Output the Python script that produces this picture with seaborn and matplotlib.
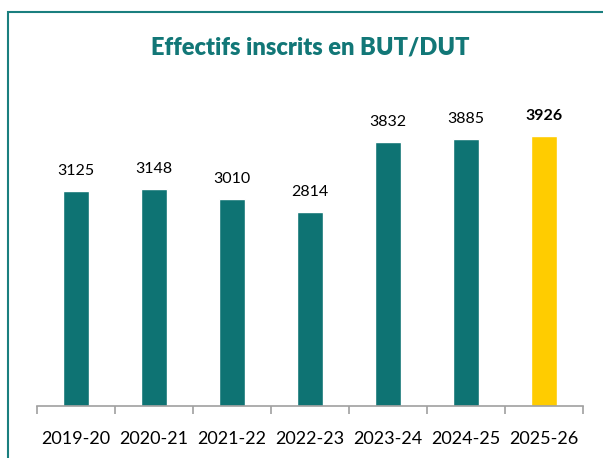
import numpy as np
import pandas as pd
import matplotlib.pyplot as plt
import seaborn as sns
from matplotlib.patches import Rectangle

# Data
years = ['2019-20', '2020-21', '2021-22', '2022-23', '2023-24', '2024-25', '2025-26']
effectifs = [3125, 3148, 3010, 2814, 3832, 3885, 3926]
teal = '#0E7373'
yellow = '#FFCC00'
colors = [teal] * 6 + [yellow]

df = pd.DataFrame({'annee': years, 'effectif': effectifs})

sns.set_theme(style='white')
plt.rcParams['font.family'] = ['Lato', 'DejaVu Sans']

fig = plt.figure(figsize=(6.03, 4.58), dpi=100)
ax = fig.add_axes([37 / 603, 1 - 406 / 458, 546 / 603, 344 / 458])

sns.barplot(data=df, x='annee', y='effectif', hue='annee', palette=colors,
            legend=False, width=0.33, saturation=1, ax=ax)

ax.set_ylim(0, 5000)
ax.set_xlim(-0.5, len(years) - 0.5)

# value labels
for i, v in enumerate(effectifs):
    ax.text(i, v + 190, str(v), ha='center', va='bottom', fontsize=11.5,
            fontweight='bold' if i == len(years) - 1 else 'normal', color='black')

# axes styling
for s in ['top', 'right', 'left']:
    ax.spines[s].set_visible(False)
ax.spines['bottom'].set_color('#A0A0A0')
ax.spines['bottom'].set_linewidth(1.2)
ax.set_yticks([])
ax.set_xlabel('')
ax.set_ylabel('')
ax.tick_params(axis='x', which='major', length=0, labelsize=13, pad=18, colors='black')
ax.set_xticks(np.arange(-0.5, len(years)), minor=True)
ax.tick_params(axis='x', which='minor', bottom=True, length=6, width=1.2,
               color='#A0A0A0', direction='out')

fig.text(310 / 603, 1 - 47 / 458, 'Effectifs inscrits en BUT/DUT', ha='center', va='center',
         fontsize=17, fontweight='heavy', color='#127777')

# frame around the chart (only left and top visible)
fig.patches.append(Rectangle((8 / 603, -0.1), 1.2, 1 - 12 / 458 + 0.1, transform=fig.transFigure,
                             fill=False, edgecolor='#1A7F7F', linewidth=1.5))

fig.savefig('out.png', dpi=100)
